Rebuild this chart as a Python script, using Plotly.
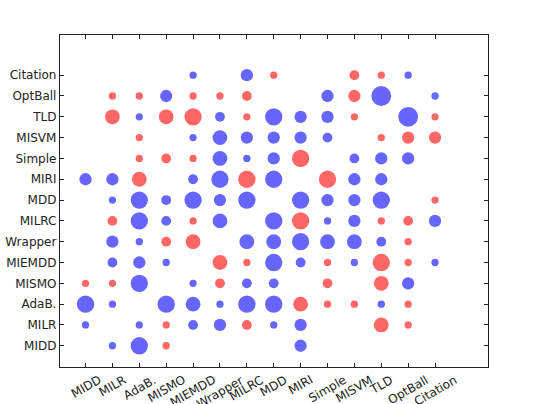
import plotly.graph_objects as go

methods = ["MIDD", "MILR", "AdaB.", "MISMO", "MIEMDD", "Wrapper", "MILRC",
           "MDD", "MIRI", "Simple", "MISVM", "TLD", "OptBall", "Citation"]

# signed score per cell: positive = blue, negative = red, 0 = none
# columns follow `methods`
row_MIDD     = [0, 1, 5, -1, 0, 0, 0, 0, 3, 0, 0, 0, 0, 0]
row_MILR     = [1, 0, 1, -1, 2, 3, -2, 1, 3, 0, 0, -4, -1, 0]
row_AdaB     = [5, 1, 0, 5, 4, 1, 5, 5, -4, -1, -1, 1, -1, 0]
row_MISMO    = [-1, -1, 5, 0, 1, -2, 2, 2, 0, -2, 0, -4, 3, 0]
row_MIEMDD   = [0, 2, 3, 1, 0, -4, -1, 5, 2, -1, 1, -5, -1, 1]
row_Wrapper  = [0, 3, 1, -2, -4, 0, 4, 4, 5, 4, 4, 2, -1, 0]
row_MILRC    = [0, -2, 5, 2, -1, 4, 0, 5, -5, 1, 3, -1, -2, 3]
row_MDD      = [0, 1, 5, 2, 5, 3, 5, 0, 5, 3, 3, 5, 0, -1]
row_MIRI     = [3, 3, -4, 0, 2, 5, -5, 5, 0, -5, 3, 3, 0, 0]
row_Simple   = [0, 0, -1, -2, -1, 4, 1, 3, -5, 0, 2, 3, 3, 0]
row_MISVM    = [0, 0, -1, 0, 1, 4, 3, 3, 3, 2, 0, -1, -3, -3]
row_TLD      = [0, -4, 1, -4, -5, 2, -1, 5, 3, 3, -1, 0, 6, -1]
row_OptBall  = [0, -1, -1, 3, -1, -1, -2, 0, 0, 3, -3, 6, 0, 1]
row_Citation = [0, 0, 0, 0, 1, 0, 3, -1, 0, 0, -2, -1, 1, 0]

rows = [row_MIDD, row_MILR, row_AdaB, row_MISMO, row_MIEMDD, row_Wrapper,
        row_MILRC, row_MDD, row_MIRI, row_Simple, row_MISVM, row_TLD,
        row_OptBall, row_Citation]

bx, by, bs, rx, ry, rs = [], [], [], [], [], []
for yi, row in enumerate(rows):
    for xi, v in enumerate(row):
        if v > 0:
            bx.append(xi); by.append(yi); bs.append(4.8 + 2.5 * v)
        elif v < 0:
            rx.append(xi); ry.append(yi); rs.append(4.8 + 2.5 * (-v))

fig = go.Figure()
fig.add_trace(go.Scatter(x=bx, y=by, mode="markers",
                         marker=dict(size=bs, color="#0000ff", opacity=0.6,
                                     line=dict(width=0)),
                         showlegend=False, hoverinfo="skip"))
fig.add_trace(go.Scatter(x=rx, y=ry, mode="markers",
                         marker=dict(size=rs, color="#ff0000", opacity=0.6,
                                     line=dict(width=0)),
                         showlegend=False, hoverinfo="skip"))

axis_common = dict(showgrid=False, zeroline=False, showline=True, linecolor="#222",
                   linewidth=1.3, mirror="ticks", ticks="inside", ticklen=4,
                   tickwidth=1, tickcolor="#222", automargin=False,
                   tickfont=dict(family="DejaVu Sans", size=12, color="#222"))

fig.update_xaxes(range=[-0.95, 14.97], tickmode="array",
                 tickvals=list(range(len(methods))), ticktext=methods,
                 showticklabels=False, **axis_common)
fig.update_yaxes(range=[-1.02, 14.93], tickmode="array",
                 tickvals=list(range(len(methods))), ticktext=methods,
                 **axis_common)

# x tick labels rotated 30 degrees and centred under each tick
for i, name in enumerate(methods):
    fig.add_annotation(x=i, y=0, xref="x", yref="paper", text=name,
                       textangle=-30, showarrow=False, xanchor="center",
                       yanchor="top", yshift=-3,
                       font=dict(family="DejaVu Sans", size=12, color="#222"))

fig.update_layout(width=544, height=404, template="none",
                  margin=dict(l=60, r=56, t=35, b=37),
                  plot_bgcolor="white", paper_bgcolor="white")

fig.write_html("out.html")
